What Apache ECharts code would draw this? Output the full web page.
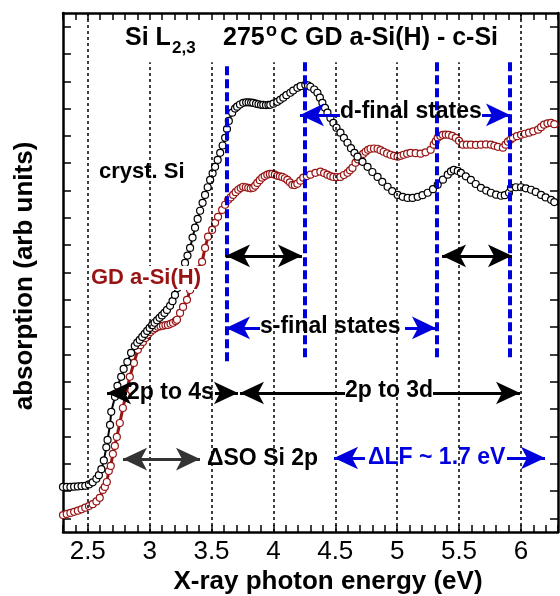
<!DOCTYPE html>
<html>
<head>
<meta charset="utf-8">
<script src="https://cdn.jsdelivr.net/npm/echarts@6/dist/echarts.min.js"></script>
<style>
html, body { margin: 0; padding: 0; background: #fff; }
#chart { width: 560px; height: 596px; }
</style>
</head>
<body>
<div id="chart"></div>
<script>
/* data: energy in eV, absorption in arb. units (0..19 over the frame) */
var xLabels = [2.5, 3, 3.5, 4, 4.5, 5, 5.5, 6];
var xMinorTicks = [2.3, 2.4, 2.5, 2.6, 2.7, 2.8, 2.9, 3.0, 3.1, 3.2, 3.3, 3.4, 3.5, 3.6, 3.7, 3.8, 3.9, 4.0, 4.1, 4.2,
    4.3, 4.4, 4.5, 4.6, 4.7, 4.8, 4.9, 5.0, 5.1, 5.2, 5.3, 5.4, 5.5, 5.6, 5.7, 5.8, 5.9, 6.0, 6.1, 6.2, 6.3];
var yTicks = [0.5, 1.5, 2.5, 3.5, 4.5, 5.5, 6.5, 7.5, 8.5, 9.5, 10.5, 11.5, 12.5, 13.5, 14.5, 15.5, 16.5, 17.5, 18.5];

var crystEnergy = [2.30, 2.33, 2.36, 2.39, 2.42, 2.45, 2.48, 2.51, 2.54, 2.57, 2.59, 2.61, 2.63, 2.65, 2.66, 2.68, 2.69,
    2.72, 2.74, 2.77, 2.79, 2.82, 2.85, 2.88, 2.90, 2.92, 2.94, 2.96, 2.98, 3.00, 3.02, 3.04, 3.06, 3.08, 3.10, 3.12,
    3.14, 3.165, 3.185, 3.205, 3.225, 3.246, 3.266, 3.286, 3.306, 3.327, 3.347, 3.367, 3.388, 3.408, 3.428, 3.448,
    3.469, 3.489, 3.509, 3.529, 3.55, 3.57, 3.59, 3.61, 3.625, 3.64, 3.667, 3.69, 3.707, 3.73, 3.756, 3.78, 3.80,
    3.82, 3.837, 3.86, 3.88, 3.90, 3.918, 3.94, 3.96, 3.975, 4.00, 4.032, 4.055, 4.08, 4.105, 4.137, 4.16, 4.194,
    4.22, 4.258, 4.28, 4.299, 4.33, 4.356, 4.376, 4.396, 4.417, 4.437, 4.461, 4.485, 4.51, 4.542, 4.57, 4.599,
    4.627, 4.655, 4.68, 4.72, 4.761, 4.80, 4.842, 4.88, 4.923, 4.96, 5.004, 5.045, 5.085, 5.125, 5.166, 5.205,
    5.247, 5.29, 5.328, 5.37, 5.409, 5.435, 5.458, 5.49, 5.515, 5.555, 5.596, 5.635, 5.677, 5.72, 5.758, 5.80,
    5.839, 5.87, 5.904, 5.92, 5.96, 6.001, 6.04, 6.082, 6.12, 6.163, 6.20, 6.244, 6.27, 6.301];
var crystAbs = [1.65, 1.65, 1.65, 1.66, 1.67, 1.68, 1.69, 1.74, 1.82, 1.95, 2.08, 2.30, 2.62, 3.10, 3.37, 3.92, 4.40,
    4.95, 5.35, 5.68, 5.97, 6.23, 6.56, 6.81, 6.93, 7.03, 7.14, 7.25, 7.36, 7.47, 7.57, 7.66, 7.75, 7.84, 7.93, 8.02,
    8.13, 8.28, 8.45, 8.68, 8.93, 9.23, 9.55, 9.85, 10.12, 10.40, 10.78, 11.14, 11.46, 11.76, 12.05, 12.34,
    12.62, 12.89, 13.13, 13.37, 13.62, 13.88, 14.15, 14.43, 14.75, 15.05, 15.35, 15.50, 15.57, 15.65, 15.71, 15.73, 15.73,
    15.72, 15.71, 15.68, 15.66, 15.64, 15.64, 15.63, 15.64, 15.64, 15.68, 15.75, 15.82, 15.90, 15.99, 16.08, 16.16, 16.26,
    16.32, 16.37, 16.35, 16.30, 16.20, 16.08, 15.90, 15.71, 15.53, 15.35, 15.16, 14.98, 14.80, 14.62, 14.43, 14.25,
    14.05, 13.88, 13.74, 13.55, 13.37, 13.18, 13.00, 12.82, 12.64, 12.48, 12.34, 12.27, 12.23, 12.23, 12.27, 12.33,
    12.42, 12.55, 12.71, 12.90, 13.08, 13.20, 13.26, 13.22, 13.15, 13.02, 12.89, 12.74, 12.60, 12.50, 12.42, 12.35,
    12.31, 12.33, 12.42, 12.60, 12.62, 12.62, 12.58, 12.53, 12.45, 12.34, 12.25, 12.16, 12.08, 11.98];

var amorEnergy = [2.30, 2.33, 2.36, 2.39, 2.42, 2.45, 2.48, 2.51, 2.54, 2.57, 2.597, 2.622, 2.638, 2.654, 2.670, 2.686,
    2.703, 2.719, 2.735, 2.759, 2.784, 2.808, 2.84, 2.873, 2.905, 2.925, 2.946, 2.966, 2.986, 3.006, 3.027, 3.047,
    3.067, 3.088, 3.108, 3.128, 3.148, 3.169, 3.189, 3.21, 3.221, 3.246, 3.27, 3.302, 3.327, 3.351, 3.383, 3.424,
    3.448, 3.472, 3.505, 3.529, 3.553, 3.586, 3.61, 3.635, 3.655, 3.675, 3.695, 3.716, 3.736, 3.756, 3.777, 3.797,
    3.817, 3.837, 3.853, 3.87, 3.89, 3.91, 3.93, 3.951, 3.971, 3.991, 4.012, 4.032, 4.052, 4.072, 4.093, 4.113,
    4.133, 4.153, 4.173, 4.194, 4.218, 4.242, 4.27, 4.299, 4.34, 4.38, 4.41, 4.437, 4.461, 4.485, 4.513, 4.542,
    4.57, 4.599, 4.619, 4.639, 4.664, 4.684, 4.704, 4.725, 4.745, 4.765, 4.785, 4.813, 4.842, 4.866, 4.891, 4.919,
    4.947, 4.975, 5.004, 5.029, 5.053, 5.081, 5.109, 5.15, 5.19, 5.23, 5.271, 5.296, 5.312, 5.328, 5.349, 5.369,
    5.393, 5.417, 5.445, 5.474, 5.50, 5.531, 5.563, 5.596, 5.637, 5.677, 5.718, 5.758, 5.786, 5.814, 5.855, 5.876,
    5.896, 5.916, 5.936, 5.968, 6.001, 6.033, 6.066, 6.10, 6.139, 6.163, 6.187, 6.215, 6.244, 6.27, 6.301];
var amorAbs = [0.62, 0.66, 0.70, 0.74, 0.78, 0.83, 0.89, 0.95, 1.02, 1.12, 1.25, 1.54, 1.65, 1.83, 2.23, 2.42,
    2.86, 3.15, 3.48, 3.99, 4.54, 5.02, 5.68, 6.19, 6.67, 6.84, 6.96, 7.10, 7.22, 7.32, 7.40, 7.46,
    7.51, 7.53, 7.55, 7.57, 7.58, 7.62, 7.66, 7.72, 7.77, 8.02, 8.24, 8.50, 8.86, 9.23, 9.60, 9.89,
    10.40, 10.81, 11.06, 11.32, 11.54, 11.79, 11.98, 12.16, 12.25, 12.34, 12.44, 12.53, 12.59, 12.64, 12.62, 12.60,
    12.58, 12.60, 12.68, 12.78, 12.88, 12.97, 13.03, 13.08, 13.11, 13.11, 13.08, 13.04, 13.02, 13.00, 12.95, 12.89,
    12.80, 12.71, 12.70, 12.75, 12.86, 12.97, 13.03, 13.08, 13.15, 13.19, 13.14, 13.08, 13.03, 13.00, 12.99, 13.00,
    13.07, 13.15, 13.24, 13.33, 13.52, 13.64, 13.74, 13.84, 13.92, 13.99, 14.03, 14.04, 14.03, 13.98, 13.92, 13.86,
    13.81, 13.77, 13.74, 13.77, 13.81, 13.85, 13.88, 13.87, 13.85, 13.90, 13.99, 14.18, 14.30, 14.43, 14.50, 14.54,
    14.55, 14.54, 14.50, 14.43, 14.32, 14.18, 14.18, 14.18, 14.17, 14.18, 14.19, 14.18, 14.14, 14.10, 14.07, 14.18,
    14.29, 14.36, 14.43, 14.49, 14.54, 14.58, 14.62, 14.67, 14.73, 14.82, 14.91, 14.96, 14.98, 14.93, 14.84];

var FONT = '"Liberation Sans", Arial, Helvetica, sans-serif';
var RED = '#981414';
var BLUE = '#0000dc';

function pairs(xs, ys) {
    var out = [];
    for (var i = 0; i < xs.length; i++) {
        out.push([xs[i], ys[i]]);
    }
    return out;
}
function seg(x1, y1, x2, y2) {
    return [{coord: [x1, y1]}, {coord: [x2, y2]}];
}
/*horizontal arrow from x1 to x2, head at x2 (and at x1 too if both)*/
function arrow(x1, x2, y, both) {
    return [
        {coord: [x1, y], symbol: both ? 'arrow' : 'none'},
        {coord: [x2, y], symbol: 'arrow'}
    ];
}
function txt(x, y, text, size, color, extra) {
    var st = {
        text: text, fill: color || '#000',
        font: 'bold ' + size + 'px ' + FONT,
        textAlign: 'left', textVerticalAlign: 'middle'
    };
    if (extra) {
        for (var k in extra) st[k] = extra[k];
    }
    return {type: 'text', x: x, y: y, z: 100, silent: true, style: st};
}

var chart = echarts.init(document.getElementById('chart'));

/*axes: bottom/left carry labels, top/right only mirror the ticks*/
var xAxisBase = {
    type: 'value', min: 2.3, max: 6.3,
    axisLine: {show: true, onZero: false, lineStyle: {color: '#000', width: 2.5}},
    axisTick: {show: true, inside: true, length: 7, customValues: xMinorTicks, lineStyle: {color: '#000', width: 1.5}},
    splitLine: {show: false}
};
var yAxisBase = {
    type: 'value', min: 0, max: 19,
    axisLine: {show: true, onZero: false, lineStyle: {color: '#000', width: 2.5}},
    axisTick: {show: true, inside: true, length: 8, customValues: yTicks, lineStyle: {color: '#000', width: 1.5}},
    axisLabel: {show: false},
    splitLine: {show: false}
};

chart.setOption({
    animation: false,
    backgroundColor: '#fff',
    grid: {left: 63, right: 2, top: 13, bottom: 64},
    xAxis: [
        echarts.util.merge({
            position: 'bottom',
            axisLabel: {show: true, customValues: xLabels, margin: 7, color: '#000', fontSize: 26, fontFamily: FONT}
        }, xAxisBase, false),
        echarts.util.merge({position: 'top', axisLabel: {show: false}}, xAxisBase, false)
    ],
    yAxis: [
        echarts.util.merge({position: 'left'}, yAxisBase, false),
        echarts.util.merge({position: 'right'}, yAxisBase, false)
    ],
    series: [
        {   /*dotted reference lines*/
            type: 'line', data: [], z: 1,
            markLine: {
                silent: true, symbol: ['none', 'none'], label: {show: false},
                lineStyle: {color: '#000', type: [3, 3], width: 1.5},
                data: [
                    seg(2.5, 0, 2.5, 19), seg(6, 0, 6, 19),
                    seg(3, 0, 3, 17.2), seg(3.5, 0, 3.5, 17.2), seg(4, 0, 4, 17.2),
                    seg(4.5, 0, 4.5, 17.2), seg(5, 0, 5, 17.2), seg(5.5, 0, 5.5, 17.2)
                ]
            }
        },
        {
            name: 'cryst. Si', type: 'line', z: 3,
            data: pairs(crystEnergy, crystAbs),
            symbol: 'circle', symbolSize: 7, showSymbol: true, showAllSymbol: true,
            itemStyle: {color: '#fff', borderColor: '#000', borderWidth: 1.2},
            lineStyle: {color: '#000', width: 2}
        },
        {
            name: 'GD a-Si(H)', type: 'line', z: 2,
            data: pairs(amorEnergy, amorAbs),
            symbol: 'circle', symbolSize: 7, showSymbol: true, showAllSymbol: true,
            itemStyle: {color: '#fff', borderColor: RED, borderWidth: 1.2},
            lineStyle: {color: RED, width: 3}
        },
        {   /*blue dashed edges*/
            type: 'line', data: [], z: 5,
            markLine: {
                silent: true, symbol: ['none', 'none'], label: {show: false},
                lineStyle: {color: BLUE, type: [9, 4], width: 4},
                data: [
                    seg(3.625, 6.25, 3.625, 17.2), seg(4.25, 6.4, 4.25, 17.2),
                    seg(5.317, 6.4, 5.317, 17.2), seg(5.914, 6.4, 5.914, 17.2)
                ]
            }
        },
        {   /*black arrows*/
            type: 'line', data: [], z: 6,
            markLine: {
                silent: true, symbolSize: [17, 24], label: {show: false},
                lineStyle: {color: '#000', type: 'solid', width: 3},
                data: [
                    arrow(3.617, 4.231, 10.11, true),
                    arrow(5.363, 5.928, 10.11, true),
                    arrow(2.817, 2.656, 5.09),
                    arrow(3.528, 3.714, 5.09),
                    arrow(4.579, 3.73, 5.09),
                    arrow(5.29, 5.993, 5.09)
                ]
            }
        },
        {   /*grey spin-orbit arrow*/
            type: 'line', data: [], z: 6,
            markLine: {
                silent: true, symbolSize: [17, 24], label: {show: false},
                lineStyle: {color: '#333', type: 'solid', width: 3},
                data: [arrow(2.785, 3.407, 2.67, true)]
            }
        },
        {   /*blue arrows*/
            type: 'line', data: [], z: 6,
            markLine: {
                silent: true, symbolSize: [17, 24], label: {show: false},
                lineStyle: {color: BLUE, type: 'solid', width: 3},
                data: [
                    arrow(4.538, 4.215, 15.27), arrow(5.686, 5.912, 15.27),
                    arrow(3.892, 3.617, 7.47), arrow(5.064, 5.314, 7.47),
                    arrow(4.74, 4.49, 2.71), arrow(5.888, 6.195, 2.71)
                ]
            }
        }
    ],
    graphic: [
        txt(125, 38, 'Si L', 25),
        txt(172, 48, '2,3', 17),
        txt(266, 31, 'o', 18),
        txt(223, 38, '275', 25),
        txt(280, 38, 'C GD a-Si(H) - c-Si', 25),
        txt(99, 172, 'cryst. Si', 22),
        txt(89, 278, 'GD a-Si(H)', 22, RED, {backgroundColor: '#fff', padding: [2, 2, 0, 2]}),
        txt(340, 112, 'd-final states', 23),
        txt(260, 327, 's-final states', 23),
        txt(127, 393, '2p to 4s', 23),
        txt(345, 391, '2p to 3d', 23),
        txt(207, 459, '\u0394SO Si 2p', 23),
        txt(368, 458, '\u0394LF ~ 1.7 eV', 23, BLUE),
        {
            type: 'text', x: 328, y: 582, z: 100, silent: true,
            style: {text: 'X-ray photon energy (eV)', fill: '#000', font: 'bold 26px ' + FONT,
                textAlign: 'center', textVerticalAlign: 'middle'}
        },
        {
            type: 'text', x: 25, y: 276, rotation: Math.PI / 2, z: 100, silent: true,
            style: {text: 'absorption (arb units)', fill: '#000', font: 'bold 26px ' + FONT,
                textAlign: 'center', textVerticalAlign: 'middle'}
        }
    ]
});
</script>
</body>
</html>
